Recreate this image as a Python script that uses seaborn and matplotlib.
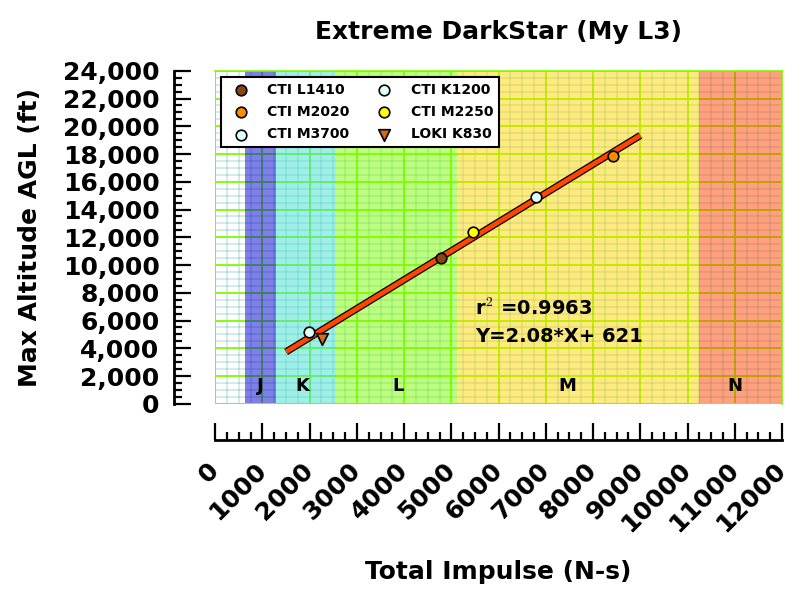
import matplotlib
matplotlib.use("Agg")
import matplotlib.pyplot as plt
import matplotlib.patheffects as pe
from matplotlib.ticker import MultipleLocator, FuncFormatter
import numpy as np
import pandas as pd
import seaborn as sns

# --- Data ---
motors = ["CTI L1410", "CTI M2020", "CTI M3700", "CTI K1200", "CTI M2250", "LOKI K830"]
impulse = [4783, 8423, 6794, 1990, 5460, 2265]          # N-s
altitude = [10510, 17840, 14930, 5150, 12400, 4640]     # ft AGL
motor_colors = ["saddlebrown", "darkorange", "lightcyan", "lightcyan", "yellow", "chocolate"]
motor_markers = ["o", "o", "o", "o", "o", "v"]

# fit stated on the chart
FIT_SLOPE = 2.08
FIT_INTERCEPT = 621
FIT_R2 = 0.9963
fit_range = [1500, 9000]

# motor impulse classes
class_names = ["J", "K", "L", "M", "N"]
class_lo = [640, 1280, 2560, 5120, 10240]
class_hi = [1280, 2560, 5120, 10240, 20480]
class_label_x = [960, 1850, 3870, 7450, 11000]
class_colors = ["mediumblue", "turquoise", "lawngreen", "gold", "orangered"]

X_MAX = 12000
Y_MAX = 24000

df = pd.DataFrame({"motor": motors, "impulse": impulse, "altitude": altitude})

sns.set_style("white")
plt.rcParams.update({
    "font.family": ["DejaVu Sans"],
    "font.weight": "bold",
    "axes.labelweight": "bold",
    "axes.titleweight": "bold",
    "text.color": "black",
    "axes.labelcolor": "black",
    "xtick.color": "black",
    "ytick.color": "black",
    "mathtext.fontset": "cm",
})

fig, ax = plt.subplots(figsize=(8, 6), dpi=100)
fig.subplots_adjust(left=0.269, right=0.9775, top=0.882, bottom=0.327)

# grid beneath the class bands
ax.set_axisbelow(True)
ax.xaxis.set_major_locator(MultipleLocator(1000))
ax.xaxis.set_minor_locator(MultipleLocator(250))
ax.yaxis.set_major_locator(MultipleLocator(2000))
ax.yaxis.set_minor_locator(MultipleLocator(500))
ax.grid(which="minor", color="#008b8b", alpha=0.2, linewidth=1.2)
ax.grid(which="major", color="lawngreen", linewidth=1.3)

for name, lo, hi, lx, col in zip(class_names, class_lo, class_hi, class_label_x, class_colors):
    ax.axvspan(lo, hi, color=col, alpha=0.5, linewidth=0, zorder=1)
    ax.text(lx, 1300, name, ha="center", va="center",
            fontsize=13, fontweight="bold", zorder=5)

# regression line
fit_x = np.array(fit_range)
fit_y = FIT_SLOPE * fit_x + FIT_INTERCEPT
ax.plot(fit_x, fit_y, color="orangered", linewidth=3.4, solid_capstyle="butt", zorder=3,
        path_effects=[pe.Stroke(linewidth=5.2, foreground="black"), pe.Normal()])

for name, col, mk in zip(motors, motor_colors, motor_markers):
    sub = df[df["motor"] == name]
    sns.scatterplot(data=sub, x="impulse", y="altitude", ax=ax, color=col, marker=mk,
                    s=70 if mk == "v" else 58, edgecolor="black", linewidth=1.2,
                    label=name, legend=False, zorder=4)

ax.text(5500, 6900, f"r$^2$ ={FIT_R2}", fontsize=14, fontweight="bold", va="center", zorder=5)
ax.text(5500, 4850, f"Y={FIT_SLOPE}*X+ {FIT_INTERCEPT}", fontsize=14, fontweight="bold",
        va="center", zorder=5)

ax.set_xlim(0, X_MAX)
ax.set_ylim(0, Y_MAX)

# detached black axes
for side in ["top", "right"]:
    ax.spines[side].set_color("lawngreen")
    ax.spines[side].set_linewidth(1.2)
ax.spines["left"].set_position(("outward", 30))
ax.spines["bottom"].set_position(("outward", 26))
for side in ["left", "bottom"]:
    ax.spines[side].set_color("black")
    ax.spines[side].set_linewidth(2)
ax.axhline(0, color="lawngreen", linewidth=1.5, zorder=2)
ax.axvline(0, color="lawngreen", linewidth=1.5, zorder=2)

ax.tick_params(which="major", direction="in", length=12, width=1.6, labelsize=18,
               color="black", left=True, bottom=True)
ax.tick_params(which="minor", direction="in", length=6, width=1.6, color="black",
               left=True, bottom=True)
ax.tick_params(axis="y", which="major", pad=10)
ax.tick_params(axis="x", which="major", pad=19)
ax.yaxis.set_major_formatter(FuncFormatter(lambda v, p: f"{v:,.0f}"))
ax.xaxis.set_major_formatter(FuncFormatter(lambda v, p: f"{v:.0f}"))
for lab in ax.get_xticklabels():
    lab.set_rotation(45)
    lab.set_ha("right")
    lab.set_va("center")
    lab.set_rotation_mode("anchor")
    lab.set_fontweight("bold")
for lab in ax.get_yticklabels():
    lab.set_fontweight("bold")

ax.set_title("Extreme DarkStar (My L3)", fontsize=18, pad=23)
ax.set_xlabel("Total Impulse (N-s)", fontsize=18, labelpad=17)
ax.set_ylabel("Max Altitude AGL (ft)", fontsize=18, labelpad=15)

leg = ax.legend(ncol=2, loc="upper left", fontsize=10, frameon=True, fancybox=False,
                framealpha=1, edgecolor="black", borderaxespad=0.45, columnspacing=1.5,
                handletextpad=0.9, labelspacing=0.6)
leg.get_frame().set_linewidth(1.5)
for t in leg.get_texts():
    t.set_fontweight("bold")
leg.set_zorder(6)

fig.savefig("out.png", dpi=100)
